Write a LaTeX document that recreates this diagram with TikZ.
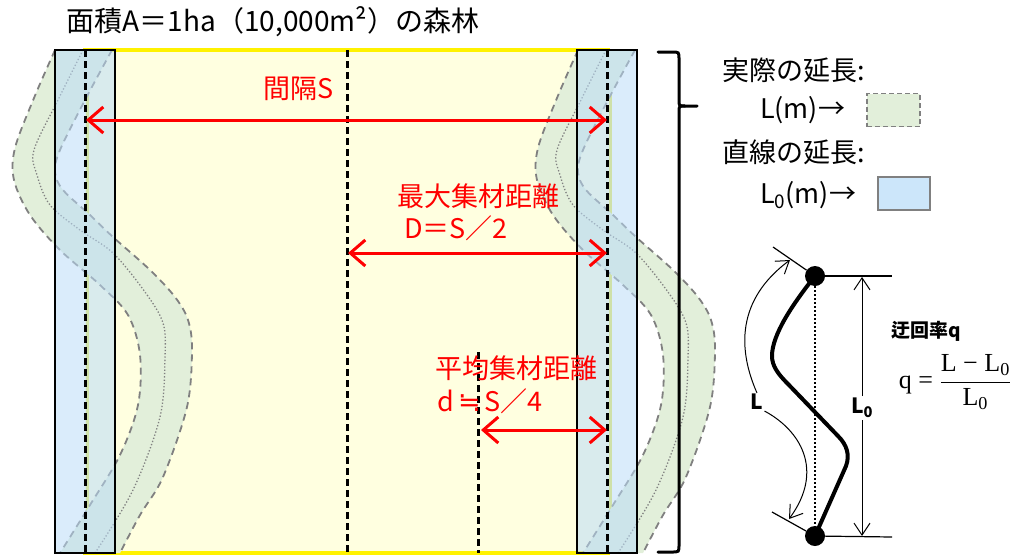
\documentclass[tikz,border=0pt]{standalone}
\usepackage[no-math]{fontspec}
\setmainfont{Noto Sans CJK JP}
\newfontfamily\symfont{DejaVu Sans}
\newfontfamily\serifq{Liberation Serif}
\usetikzlibrary{arrows.meta}
\definecolor{lyellow}{HTML}{FFFFE0}
\definecolor{edgeyellow}{HTML}{E8E84A}
\definecolor{bandgreen}{HTML}{E2EFDA}
\definecolor{rectblue}{HTML}{BBDCF8}
\definecolor{legblue}{HTML}{CCE6FA}
\definecolor{bandgray}{HTML}{808080}
\definecolor{myred}{HTML}{FF0000}
\newcommand{\myfs}[1]{\fontsize{#1}{#1}\selectfont}
\begin{document}
\begin{tikzpicture}[x=1pt,y=-1pt,
  bandline/.style={bandgray, line width=1.8pt, dash pattern=on 7pt off 5pt},
  banddot/.style={bandgray, line width=1.3pt, dotted},
  cdash/.style={black, line width=3pt, dash pattern=on 7pt off 4pt},
  redarrow/.style={myred, line width=3pt, {Straight Barb[length=15pt,width=26pt,line width=3pt]}-{Straight Barb[length=15pt,width=26pt,line width=3pt]}},
  redtext/.style={text=myred, inner sep=0pt},
  legtext/.style={anchor=west, inner sep=0pt},
  dotnode/.style={circle, fill=black, inner sep=0pt, minimum size=20pt},
  thinarrow/.style={line width=1pt, -{Straight Barb[length=12pt,width=16pt,line width=1pt]}},
]
\useasboundingbox (0,0) rectangle (1015,555);

% title
\node[inner sep=0pt] (title) at (273,22) {\myfs{28}面積A＝1ha（10,000m²）の森林};

% yellow forest area
\fill[lyellow] (85,50) rectangle (610,553);
\draw[yellow, line width=4pt] (83,50) -- (610,50);
\draw[yellow, line width=4pt] (83,553) -- (610,553);
\draw[edgeyellow, line width=3pt] (87,50) -- (87,553);
\draw[edgeyellow, line width=3pt] (610,50) -- (610,553);

% wavy bands (actual line)
\foreach \dx in {0,523}{
\begin{scope}[xshift=\dx pt]
\fill[bandgreen] plot[smooth,tension=0.55] coordinates {(55,50) (34,98) (15,148) (14,180) (30,215) (60,250) (100,285) (128,315) (140,355) (138,405) (120,455) (90,505) (60,553)}
  -- plot[smooth,tension=0.55] coordinates {(120,553) (140,515) (163,477) (187,407) (192,350) (188,320) (175,297) (150,270) (113,237) (90,215) (63,190) (55,172) (60,150) (85,100) (112,50)} -- cycle;
\draw[bandline] plot[smooth,tension=0.55] coordinates {(55,50) (34,98) (15,148) (14,180) (30,215) (60,250) (100,285) (128,315) (140,355) (138,405) (120,455) (90,505) (60,553)};
\draw[bandline] plot[smooth,tension=0.55] coordinates {(112,50) (85,100) (60,150) (55,172) (63,190) (90,215) (113,237) (150,270) (175,297) (188,320) (192,350) (187,407) (163,477) (140,515) (120,553)};
\draw[banddot] plot[smooth,tension=0.55] coordinates {(83,50) (58,100) (34,150) (37,175) (50,205) (80,230) (113,253) (145,292) (163,323) (165,357) (160,417) (133,490) (95,553)};
\end{scope}
}

% straight-line strips
\fill[rectblue, opacity=0.55] (55,50) rectangle (115,553);
\fill[rectblue, opacity=0.55] (577,50) rectangle (637,553);
\draw[black, line width=1.6pt] (55,50) rectangle (115,553);
\draw[black, line width=1.6pt] (577,50) rectangle (637,553);

% dashed lines
\draw[cdash] (85,50) -- (85,553);
\draw[cdash] (607,50) -- (607,553);
\draw[cdash] (347,50) -- (347,553);
\draw[cdash] (478,352) -- (478,553);

% arrows
\coordinate (sL) at (86,120);
\coordinate (sR) at (607,120);
\coordinate (DL) at (348,253);
\coordinate (DR) at (607,253);
\coordinate (dL) at (481,430);
\coordinate (dR) at (607,430);
\draw[redarrow] (sL) -- (sR);
\draw[redarrow] (DL) -- (DR);
\draw[redarrow] (dL) -- (dR);

\node[redtext] (lS) at (299,89) {\myfs{27}間隔S};
\node[redtext] (lD1) at (478,196) {\myfs{27}最大集材距離};
\node[redtext] (lD2) at (456,228) {\myfs{27}D＝S／2};
\node[redtext] (ld1) at (516,368) {\myfs{27}平均集材距離};
\node[redtext] (ld2) at (490,401) {\myfs{27}d\hspace{4pt}{\symfont ≒}\hspace{4pt}S／4};

% brace
\draw[black, line width=3pt, line cap=round] (658,52) -- (672,52) .. controls (679,52) .. (679,59) -- (679,100) .. controls (679,106) .. (685,106) -- (697,106);
\draw[black, line width=3pt, line cap=round] (685,106) .. controls (679,106) .. (679,112) -- (679,545) .. controls (679,552) .. (672,552) -- (658,552);

% legend
\node[legtext] (leg1) at (722,70) {\myfs{27}実際の延長:};
\node[legtext] (leg2) at (760,110) {\myfs{27}L(m)→};
\node[legtext] (leg3) at (722,152) {\myfs{27}直線の延長:};
\node[legtext] (leg4) at (760,195) {\myfs{27}L\textsubscript{0}(m)→};
\node[draw=bandgray, line width=1.5pt, dash pattern=on 5pt off 3pt, fill=bandgreen, minimum width=53pt, minimum height=33pt, inner sep=0pt] (gbox) at (893.5,110) {};
\node[draw=bandgray, line width=1.3pt, fill=legblue, minimum width=52pt, minimum height=33pt, inner sep=0pt] (bbox) at (904,193.5) {};

% small diagram
\node[dotnode] (top) at (815,276) {};
\node[dotnode] (bot) at (815,536) {};
\draw[black, line width=2pt, dotted] (top) -- (bot);
\draw[black, line width=4pt, line cap=round, line join=round] (top.center) .. controls (792,305) and (772,335) .. (772,356) .. controls (772,366) and (778,374) .. (788,384) -- (838,436) .. controls (847,445) and (850,455) .. (846,466) -- (bot.center);
\coordinate (tr) at (892,276);
\coordinate (br) at (892,537);
\draw[black, line width=1.2pt] (top.center) -- (tr);
\draw[black, line width=1.2pt] (bot.center) -- (br);
\coordinate (va) at (862,277);
\coordinate (vb) at (862,536);
\node[fill=white, inner sep=2pt] (L0lab) at (862,408) {\myfs{21}\bfseries L\textsubscript{0}};
\draw[thinarrow] (L0lab.north) -- (va);
\draw[thinarrow] (L0lab.south) -- (vb);
\coordinate (tk1) at (773,247);
\coordinate (tk2) at (772,512);
\draw[black, line width=1.2pt] (tk1) -- (top);
\draw[black, line width=1.2pt] (tk2) -- (bot);
\node[inner sep=1pt] (Llab) at (757,402) {\myfs{21}\bfseries L};
\coordinate (ta) at (790,260);
\coordinate (ba) at (789,519);
\draw[thinarrow] (Llab.north) .. controls (738,350) and (736,300) .. (ta);
\draw[thinarrow] (Llab.south east) .. controls (800,430) and (825,470) .. (ba);

\node[inner sep=0pt] (qlab) at (926,331) {\myfs{19}\bfseries 迂回率q};
\node[inner sep=0pt] (formula) at (955,382) {\serifq\myfs{26}q = $\displaystyle\frac{\mbox{\serifq L − L\textsubscript{0}}}{\mbox{\serifq L\textsubscript{0}}}$};
\end{tikzpicture}
\end{document}
